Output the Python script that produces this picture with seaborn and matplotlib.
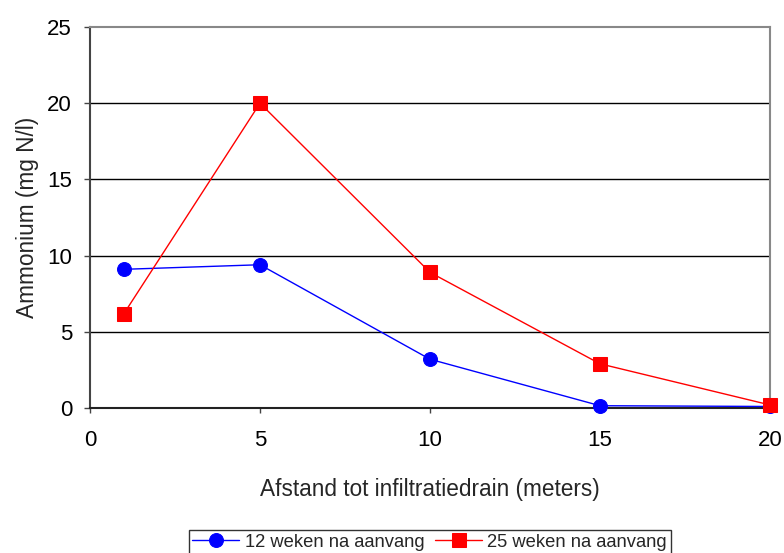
import matplotlib
matplotlib.use("Agg")
import matplotlib.pyplot as plt
import seaborn as sns
import pandas as pd

distance = [1, 5, 10, 15, 20]
week12 = [9.1, 9.4, 3.2, 0.15, 0.1]
week25 = [6.2, 20.0, 8.9, 2.9, 0.2]
labels = ["12 weken na aanvang", "25 weken na aanvang"]
yticks = [0, 5, 10, 15, 20, 25]
xticks = [0, 5, 10, 15, 20]

sns.set_style("white")
plt.rcParams['font.family'] = ['Liberation Sans', 'DejaVu Sans']

fig = plt.figure(figsize=(7.84, 5.53), dpi=100)
ax = fig.add_axes([90/784, 1-408/553, (770-90)/784, (408-27)/553])

df12 = pd.DataFrame({"x": distance, "y": week12})
df25 = pd.DataFrame({"x": distance, "y": week25})
sns.lineplot(data=df12, x="x", y="y", ax=ax, color="#0000ff", marker="o",
             markersize=10, markeredgecolor="#0000ff", linewidth=1, label=labels[0], clip_on=False, zorder=4)
sns.lineplot(data=df25, x="x", y="y", ax=ax, color="#ff0000", marker="s",
             markersize=9.5, markeredgecolor="#ff0000", linewidth=1, label=labels[1], clip_on=False, zorder=4)

ax.set_xlim(0, 20)
ax.set_ylim(0, 25)
ax.set_xticks(xticks)
ax.set_yticks(yticks)
for v in yticks[1:-1]:
    ax.axhline(v, color="black", linewidth=1, zorder=1)

ax.tick_params(axis="both", labelsize=16, direction="out", colors="#444444", labelcolor="black")
ax.tick_params(axis="x", length=3.6, width=1, pad=12.5)
ax.tick_params(axis="y", length=4.3, width=1, pad=8.6)
ax.xaxis.set_ticks_position("bottom")
ax.yaxis.set_ticks_position("left")

ax.spines["left"].set_color("#444444")
ax.spines["left"].set_linewidth(1.5)
ax.spines["bottom"].set_color("#222222")
ax.spines["bottom"].set_linewidth(1.5)
ax.spines["top"].set_color("#888888")
ax.spines["top"].set_linewidth(1.5)
ax.spines["right"].set_color("#888888")
ax.spines["right"].set_linewidth(1.5)

ax.set_xlabel("Afstand tot infiltratiedrain (meters)", fontsize=16.3, labelpad=19)
ax.set_ylabel("Ammonium (mg N/l)", fontsize=16.3, labelpad=6)

ax.legend_.remove()
h, l = ax.get_legend_handles_labels()
leg = fig.legend(h, l, loc="upper center", bbox_to_anchor=(0.548, 1-521/553), ncol=2,
                 fontsize=13.2, frameon=True, fancybox=False, edgecolor="black",
                 borderpad=0.2, handlelength=2.55, columnspacing=0.6, handletextpad=0.3)
leg.get_frame().set_linewidth(1)

fig.savefig("out.png", dpi=100)
